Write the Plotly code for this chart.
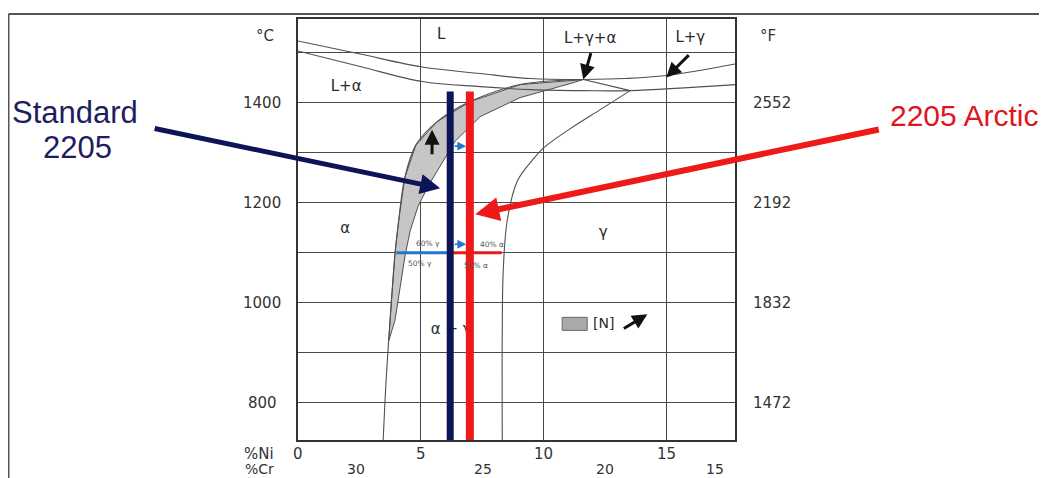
import plotly.graph_objects as go

# ---------------- data (Ni wt%, temperature degC) ----------------
liq_alpha_ni = [0.0, 2.53, 5.06, 7.42, 9.46, 11.62]
liq_alpha_t = [1523, 1497, 1471, 1458, 1448, 1446]

liq_gamma_ni = [11.62, 13.33, 15.0, 17.8]
liq_gamma_t = [1446, 1448, 1454, 1477]

solidus_ni = [0.0, 2.53, 5.06, 7.42, 9.46, 11.62, 13.53, 17.8]
solidus_t = [1503, 1472, 1442, 1432, 1426, 1424, 1424, 1436]

three_phase_ni = [11.62, 13.53]
three_phase_t = [1446, 1424]

# alpha / (alpha+gamma) boundary, low nitrogen (outer edge of grey band)
alpha_bound_ni = [11.62, 9.05, 7.01, 5.67, 4.80, 4.35, 4.10, 3.95, 3.75, 3.59, 3.47]
alpha_bound_t = [1446, 1436, 1402, 1362, 1315, 1250, 1164, 1098, 965, 846, 726]

# same boundary shifted by nitrogen (inner edge of grey band)
alpha_bound_n_ni = [11.62, 11.09, 9.05, 7.42, 6.40, 5.79, 5.30, 4.89, 4.57, 4.36, 4.16, 3.95, 3.70]
alpha_bound_n_t = [1446, 1438, 1410, 1372, 1323, 1273, 1233, 1193, 1144, 1094, 1034, 965, 925]

# gamma / (alpha+gamma) boundary
gamma_bound_ni = [13.53, 12.31, 11.09, 9.99, 9.58, 8.93, 8.52, 8.36, 8.32, 8.32]
gamma_bound_t = [1424, 1386, 1348, 1309, 1287, 1243, 1164, 1064, 945, 726]

# alloys
alloy_names = ["Standard", "2205", "2205 Arctic"]
alloy_ni = [6.2, 7.0]
alloy_t_top = [1422, 1422]

# tie line at 1100 degC
tie_t = 1100
tie_alpha_ni = 4.0
tie_gamma_ni = 8.3
tie_labels_above = ["60% γ", "40% α"]
tie_labels_below = ["50% γ", "50% α"]

# axes
t_ticks = [800, 1000, 1200, 1400]
f_labels = ["1472", "1832", "2192", "2552"]
grid_t = [800, 900, 1000, 1100, 1200, 1300, 1400, 1500]
ni_ticks = [0, 5, 10, 15]
cr_labels = ["30", "25", "20", "15"]
cr_at_ni = [2.36, 7.54, 12.5, 17.0]

# region labels
region_text = ["L", "L+γ+α", "L+γ", "L+α", "α", "γ", "α + γ"]
region_ni = [5.83, 11.9, 15.98, 1.96, 1.92, 12.43, 6.24]
region_t = [1535, 1527, 1529, 1430, 1148, 1140, 945]

# ---------------- layout geometry (screen pixels) ----------------
W, H = 1047, 478
BODY = 8                      # default page margin around the plot div
PL, PR, PT, PB = 298, 735, 17, 440


def px2x(px):
    return (px - PL) / (PR - PL)


def px2y(py):
    return (PB - py) / (PB - PT)


NAVY = "#0c1558"
NAVY_TXT = "#1d1d60"
RED = "#ee1a1a"
RED_TXT = "#e0161e"
BLUE = "#2277cc"
CURVE = "#505050"
TXT = "#2a2a2a"
FONT = "DejaVu Sans"

fig = go.Figure()

# grey nitrogen band
band_x = [n for n, t in zip(alpha_bound_ni, alpha_bound_t) if t > alpha_bound_n_t[-1]] + alpha_bound_n_ni[::-1]
band_y = [t for t in alpha_bound_t if t > alpha_bound_n_t[-1]] + alpha_bound_n_t[::-1]
fig.add_trace(go.Scatter(x=band_x, y=band_y, mode="lines", fill="toself",
                         fillcolor="#c6c6c6", line=dict(color=CURVE, width=1), hoverinfo="skip"))

for xs, ys in [(liq_alpha_ni, liq_alpha_t), (liq_gamma_ni, liq_gamma_t), (solidus_ni, solidus_t),
               (three_phase_ni, three_phase_t), (alpha_bound_ni, alpha_bound_t),
               (gamma_bound_ni, gamma_bound_t)]:
    fig.add_trace(go.Scatter(x=xs, y=ys, mode="lines", line=dict(color=CURVE, width=1.1),
                             line_shape="spline", hoverinfo="skip"))

# region labels (under the alloy lines)
fig.add_trace(go.Scatter(x=region_ni, y=region_t, mode="text", text=region_text,
                         textfont=dict(family=FONT, size=15, color=TXT), hoverinfo="skip"))

# tie line
fig.add_trace(go.Scatter(x=[tie_alpha_ni, alloy_ni[0]], y=[tie_t, tie_t], mode="lines",
                         line=dict(color=BLUE, width=3), hoverinfo="skip"))
fig.add_trace(go.Scatter(x=[alloy_ni[0], tie_gamma_ni], y=[tie_t, tie_t], mode="lines",
                         line=dict(color=RED, width=3), hoverinfo="skip"))

# alloy vertical lines
fig.add_trace(go.Scatter(x=[alloy_ni[0], alloy_ni[0]], y=[alloy_t_top[0], 700], mode="lines",
                         line=dict(color=NAVY, width=7), hoverinfo="skip"))
fig.add_trace(go.Scatter(x=[alloy_ni[1], alloy_ni[1]], y=[alloy_t_top[1], 700], mode="lines",
                         line=dict(color=RED, width=8), hoverinfo="skip"))

ann = []
# tiny tie-line labels
ann += [
    dict(x=5.3, y=tie_t, yshift=9, text=tie_labels_above[0]),
    dict(x=7.9, y=tie_t, yshift=8, text=tie_labels_above[1]),
    dict(x=4.95, y=tie_t, yshift=-11, text=tie_labels_below[0]),
    dict(x=7.25, y=tie_t, yshift=-13, text=tie_labels_below[1]),
]
for a in ann:
    a.update(xref="x", yref="y", showarrow=False, font=dict(family=FONT, size=7.5, color="#555"))


def arrow(x, y, ax, ay, color, width, size=1.0, head=2):
    return dict(x=x, y=y, ax=ax, ay=ay, xref="x", yref="y", axref="pixel", ayref="pixel",
                text="", showarrow=True, arrowhead=head, arrowsize=size, arrowwidth=width,
                arrowcolor=color, standoff=0, startstandoff=0)


# small blue arrows
ann.append(arrow(6.85, 1313, -13, 0, BLUE, 1.6, 1.1, 2))
ann.append(arrow(6.85, 1117, -13, 0, BLUE, 1.6, 1.1, 2))
# black arrows
ann.append(arrow(5.46, 1346, 0, 26, "#111", 3, 1.0, 2))
ann.append(arrow(11.62, 1446, 8, -28, "#111", 3, 1.0, 2))
ann.append(arrow(15.0, 1450, 24, -24, "#111", 3, 1.0, 2))
ann.append(arrow(14.23, 977, -25, 15, "#111", 3, 1.0, 2))
# big label arrows
ann.append(arrow(5.79, 1229, -287, -60, NAVY, 5, 0.8, 2))
ann.append(arrow(7.22, 1177, 405, -85, RED, 6, 0.8, 2))


def ptext(px, py, text, font):
    return dict(x=px2x(px), y=px2y(py), xref="paper", yref="paper", text=text, showarrow=False,
                xanchor="center", yanchor="middle", font=font)


big_navy = dict(family="Liberation Sans", size=31, color=NAVY_TXT)
big_red = dict(family="Liberation Sans", size=30, color=RED_TXT)
ann.append(ptext(75, 111, alloy_names[0], big_navy))
ann.append(ptext(78, 146, alloy_names[1], big_navy))
ann.append(ptext(964, 114, alloy_names[2], big_red))

# [N] legend text
ann.append(dict(x=12.43, y=959, xref="x", yref="y", text="[N]", showarrow=False,
                font=dict(family=FONT, size=14, color=TXT)))

# axis labels
axf = dict(family=FONT, size=15, color="#333")
axf_small = dict(family=FONT, size=14, color="#333")
for t in t_ticks:
    ann.append(dict(x=px2x(262), y=t, xref="paper", yref="y", text=str(t), showarrow=False,
                    xanchor="center", yanchor="middle", font=axf))
for t, f in zip(t_ticks, f_labels):
    ann.append(dict(x=px2x(772), y=t, xref="paper", yref="y", text=f, showarrow=False,
                    xanchor="center", yanchor="middle", font=axf))
ann.append(ptext(265, 34, "°C", axf))
ann.append(ptext(768, 34, "°F", axf))
ann.append(ptext(259, 454, "%Ni", axf))
ann.append(ptext(259, 469, "%Cr", axf_small))
for n in ni_ticks:
    ann.append(dict(x=n, y=px2y(454), xref="x", yref="paper", text=str(n), showarrow=False,
                    xanchor="center", yanchor="middle", font=axf))
for c, n in zip(cr_labels, cr_at_ni):
    ann.append(dict(x=n, y=px2y(469), xref="x", yref="paper", text=c, showarrow=False,
                    xanchor="center", yanchor="middle", font=axf_small))

shapes = [
    # legend swatch
    dict(type="rect", xref="x", yref="y", x0=10.76, x1=11.78, y0=945, y1=971,
         fillcolor="#a9a9a9", line=dict(color="#666", width=1)),
    # picture frame
    dict(type="line", xref="paper", yref="paper", x0=px2x(8.5), x1=px2x(W + 5), y0=px2y(12), y1=px2y(12),
         line=dict(color="#555", width=2)),
    dict(type="line", xref="paper", yref="paper", x0=px2x(8.5), x1=px2x(8.5), y0=px2y(12), y1=px2y(H + 5),
         line=dict(color="#555", width=2)),
]

axis_common = dict(showticklabels=False, ticks="", showgrid=True, gridcolor="#4a4a4a", gridwidth=1,
                   showline=True, mirror=True, linecolor="#333", linewidth=1.5, zeroline=False)

FW, FH = W - BODY, H - BODY
fig.update_layout(
    width=FW, height=FH,
    margin=dict(l=PL - BODY, r=FW - (PR - BODY), t=PT - BODY, b=FH - (PB - BODY), pad=0),
    paper_bgcolor="white", plot_bgcolor="white",
    showlegend=False,
    xaxis=dict(range=[0, 17.8], tickvals=[5, 10, 15], **axis_common),
    yaxis=dict(range=[726, 1567], tickvals=grid_t, **axis_common),
    annotations=ann,
    shapes=shapes,
)

fig.write_html("out.html")
